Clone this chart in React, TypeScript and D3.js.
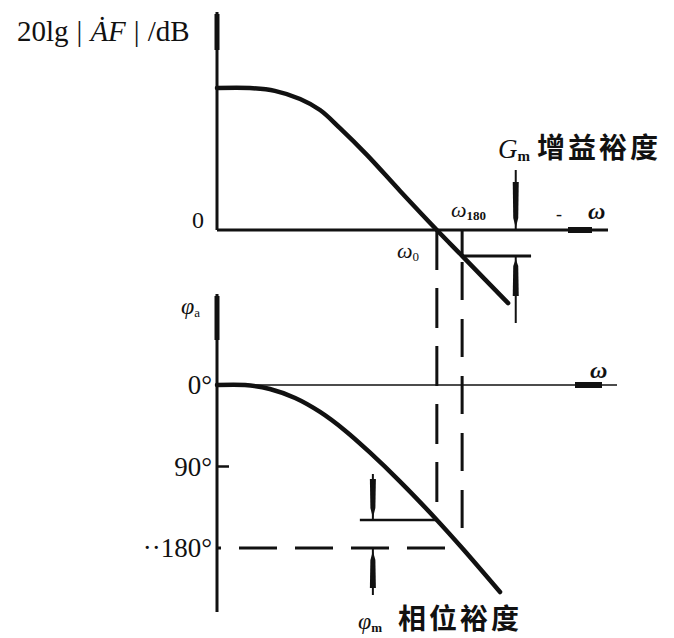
import * as d3 from "d3";

// log-frequency axis in arbitrary units (0 = origin)
const magFreq = [0, 8.6, 15.1, 21.7, 26.9, 32.1, 39.2, 47.8, 57.4, 64, 76];
const magDb = [40, 40, 39.2, 36.9, 33.8, 28.7, 21.1, 11, 0, -7.3, -20.6];

const phaseFreq = [0, 7.3, 13.8, 20.4, 26.9, 33.4, 39.9, 47.8, 57.4, 64, 73.9];
const phaseDeg = [0, 0, -4.4, -14.4, -29.8, -50.2, -74.5, -106.7, -149, -180, -228.6];

const phaseTicks = [0, -90, -180];
const phaseTickLabels = ["0°", "90°", "··180°"];

// ω0 (gain crossover) and ω180 (phase crossover)
const crossFreqs = [57.4, 64];
const gmFreq = 78; // gain margin marker
const pmFreq = 40.7; // phase margin marker
const gmLineEnd = 82;
const pmLineStart = 37.3;

const W = 674;
const H = 638;
const serif = "'Liberation Serif', 'DejaVu Serif', serif";
const cjk = "'Noto Sans CJK SC', sans-serif";

export default function App() {
  const x = d3.scaleLinear().domain([0, 100]).range([217, 600]);
  const yMag = d3.scaleLinear().domain([-20, 40]).range([301, 88]);
  const yPh = d3.scaleLinear().domain([-180, 0]).range([548, 385]);

  const magLine = d3
    .line<number>()
    .x((d, i) => x(magFreq[i]))
    .y((d) => yMag(d))
    .curve(d3.curveCatmullRom.alpha(0.5));
  const phLine = d3
    .line<number>()
    .x((d, i) => x(phaseFreq[i]))
    .y((d) => yPh(d))
    .curve(d3.curveCatmullRom.alpha(0.5));

  const [w0, w180] = crossFreqs;
  const x0 = x(0);
  const zeroDb = yMag(0);
  const zeroPh = yPh(0);
  const ph180 = yPh(-180);
  const gmY = yMag(-7.3);
  const pmY = yPh(-149);
  const gx = x(gmFreq);
  const px = x(pmFreq);

  return (
    <svg
      width={W}
      height={H}
      style={{ position: "absolute", left: 0, top: 0, background: "#fff" }}
    >
      {/* ---------- magnitude panel ---------- */}
      <text x={17} y={41} fontFamily={serif} fontSize={29} fill="#111">
        <tspan>20lg</tspan>
        <tspan dx={8}>|</tspan>
        <tspan dx={8} fontStyle="italic">Ȧ</tspan>
        <tspan fontStyle="italic">F</tspan>
        <tspan dx={8}>|</tspan>
        <tspan dx={8}>/dB</tspan>
      </text>
      <line x1={x0} x2={x0} y1={12} y2={zeroDb} stroke="#111" strokeWidth={3} />
      <line x1={x0} x2={x0} y1={14} y2={50} stroke="#111" strokeWidth={5} />
      <line x1={x0} x2={608} y1={zeroDb} y2={zeroDb} stroke="#111" strokeWidth={3} />
      <line x1={568} x2={592} y1={zeroDb} y2={zeroDb} stroke="#111" strokeWidth={6} />
      <text x={204} y={228} textAnchor="end" fontFamily={serif} fontSize={24} fill="#111">0</text>
      <text x={556} y={220} fontFamily={serif} fontSize={18} fill="#111">-</text>
      <text x={588} y={219} fontFamily={serif} fontStyle="italic" fontWeight="bold" fontSize={24} fill="#111">ω</text>

      <path d={magLine(magDb) ?? ""} fill="none" stroke="#111" strokeWidth={4.5} strokeLinecap="round" />

      {/* ω180 / ω0 labels */}
      <text x={451} y={217} fontFamily={serif} fontSize={22} fontStyle="italic" fill="#111">
        ω<tspan fontSize={13} dy={3} fontStyle="normal" fontWeight="bold">180</tspan>
      </text>
      <text x={397} y={258} fontFamily={serif} fontSize={22} fontStyle="italic" fill="#111">
        ω<tspan fontSize={13} dy={3} fontStyle="normal">0</tspan>
      </text>

      {/* gain margin */}
      <line x1={x(w180)} x2={x(w180)} y1={zeroDb} y2={gmY} stroke="#111" strokeWidth={3} />
      <line x1={x(w180)} x2={x(gmLineEnd)} y1={gmY} y2={gmY} stroke="#111" strokeWidth={3} />
      <line x1={gx} x2={gx} y1={170} y2={zeroDb} stroke="#111" strokeWidth={2} />
      <polygon points={`${gx - 3},182 ${gx + 3},182 ${gx + 2.5},218 ${gx},228 ${gx - 2.5},218`} fill="#111" />
      <line x1={gx} x2={gx} y1={gmY} y2={323} stroke="#111" strokeWidth={2} />
      <polygon points={`${gx},259 ${gx + 2.5},266 ${gx + 3},296 ${gx - 3},296 ${gx - 2.5},266`} fill="#111" />
      <text x={498} y={158} fontFamily={serif} fontSize={27} fontStyle="italic" fill="#111">
        G<tspan fontSize={15} dy={3} fontStyle="normal" fontWeight="bold">m</tspan>
      </text>
      <text x={537} y={158} fontFamily={cjk} fontWeight="bold" fontSize={28} letterSpacing={3} fill="#111">增益裕度</text>

      {/* dashed verticals linking the panels */}
      <line x1={x(w0)} x2={x(w0)} y1={zeroDb} y2={pmY} stroke="#111" strokeWidth={3} strokeDasharray="40 18" />
      <line x1={x(w180)} x2={x(w180)} y1={gmY} y2={ph180} stroke="#111" strokeWidth={3} strokeDasharray="38 19" strokeDashoffset={-6} />

      {/* ---------- phase panel ---------- */}
      <text x={181} y={314} fontFamily={serif} fontStyle="italic" fontSize={24} fill="#111">
        φ<tspan fontSize={13} dy={3} fontStyle="normal">a</tspan>
      </text>
      <line x1={x0} x2={x0} y1={294} y2={612} stroke="#111" strokeWidth={3} />
      <line x1={x0} x2={x0} y1={296} y2={340} stroke="#111" strokeWidth={5} />
      <line x1={x0} x2={617} y1={zeroPh} y2={zeroPh} stroke="#111" strokeWidth={1.6} />
      <line x1={575} x2={602} y1={zeroPh} y2={zeroPh} stroke="#111" strokeWidth={6} />
      <text x={590} y={378} fontFamily={serif} fontStyle="italic" fontWeight="bold" fontSize={24} fill="#111">ω</text>

      {phaseTicks.map((t, i) => (
        <g key={t}>
          {t === -90 && (
            <line x1={x0} x2={x0 + 12} y1={yPh(t)} y2={yPh(t)} stroke="#111" strokeWidth={2.5} />
          )}
          <text
            x={212}
            y={yPh(t) + 9}
            textAnchor="end"
            fontFamily={serif}
            fontSize={27}
            fill="#111"
          >
            {phaseTickLabels[i]}
          </text>
        </g>
      ))}

      {/* -180° dashed reference */}
      <line x1={x0} x2={x(w180)} y1={ph180} y2={ph180} stroke="#111" strokeWidth={3} strokeDasharray="38 18" strokeDashoffset={-22} />

      <path d={phLine(phaseDeg) ?? ""} fill="none" stroke="#111" strokeWidth={4.5} strokeLinecap="round" />

      {/* phase margin */}
      <line x1={x(pmLineStart)} x2={x(w0)} y1={pmY} y2={pmY} stroke="#111" strokeWidth={2.5} />
      <line x1={px} x2={px} y1={474} y2={pmY} stroke="#111" strokeWidth={2} />
      <polygon points={`${px - 3},479 ${px + 3},479 ${px + 2.5},508 ${px},518 ${px - 2.5},508`} fill="#111" />
      <line x1={px} x2={px} y1={ph180} y2={595} stroke="#111" strokeWidth={2} />
      <polygon points={`${px},551 ${px + 2.5},560 ${px + 3},588 ${px - 3},588 ${px - 2.5},560`} fill="#111" />
      <text x={358} y={629} fontFamily={serif} fontStyle="italic" fontSize={24} fill="#111">
        φ<tspan fontSize={13} dy={3} fontStyle="normal" fontWeight="bold">m</tspan>
      </text>
      <text x={398} y={629} fontFamily={cjk} fontWeight="bold" fontSize={28} letterSpacing={3} fill="#111">相位裕度</text>
    </svg>
  );
}
